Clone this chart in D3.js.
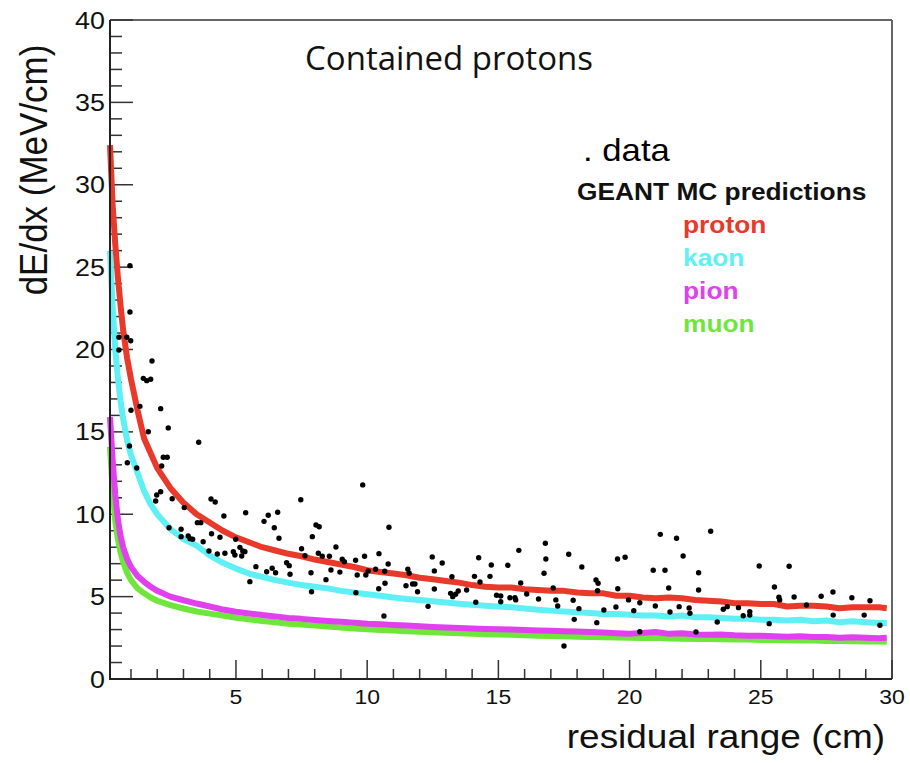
<!DOCTYPE html>
<html>
<head>
<meta charset="utf-8">
<script src="https://cdn.jsdelivr.net/npm/d3@7"></script>
<style>
  html, body { margin: 0; padding: 0; background: #fff; }
  svg { display: block; }
</style>
</head>
<body>
<svg id="chart" width="910" height="763"></svg>
<script>
// ---------- data ----------
const titleText = "Contained protons";
const xLabel = "residual range (cm)";
const yLabel = "dE/dx (MeV/cm)";
const xTickLabels = [5, 10, 15, 20, 25, 30];
const yTickLabels = [0, 5, 10, 15, 20, 25, 30, 35, 40];

const curveX = [0.2,0.3,0.4,0.5,0.6,0.7,0.85,1.0,1.25,1.5,1.75,2.0,2.5,3.0,3.5,4.0,4.5,5.0,5.5,6.0,6.5,7.0,7.5,8,8.5,9,9.5,10,10.5,11,11.5,12,12.5,13,13.5,14,14.5,15,15.5,16,16.5,17,17.5,18,18.5,19,19.5,20,20.5,21,21.5,22,22.5,23,23.5,24,24.5,25,25.5,26,26.5,27,27.5,28,28.5,29,29.5,29.8];
const protonY = [32.4,28.8,26.4,24.4,22.7,21.2,19.5,18.2,16.3,14.6,13.7,12.8,11.6,10.7,10.0,9.5,9.0,8.6,8.3,8.0,7.8,7.6,7.45,7.25,7.1,6.95,6.8,6.6,6.5,6.4,6.3,6.15,6.05,5.95,5.85,5.7,5.6,5.55,5.55,5.45,5.4,5.35,5.35,5.25,5.2,5.2,5.05,5.05,4.95,4.9,4.95,4.9,4.8,4.75,4.7,4.6,4.6,4.55,4.55,4.4,4.45,4.45,4.4,4.3,4.35,4.35,4.35,4.3];
const kaonY = [26.0,22.6,20.0,18.3,16.9,15.8,14.5,13.6,12.5,11.4,10.6,10.0,9.1,8.5,8.1,7.5,7.05,6.7,6.4,6.2,6.0,5.85,5.7,5.6,5.5,5.35,5.25,5.15,5.05,4.95,4.85,4.8,4.72,4.65,4.57,4.5,4.45,4.4,4.35,4.28,4.2,4.15,4.1,4.05,4.0,3.95,3.95,3.9,3.85,3.85,3.8,3.85,3.75,3.75,3.7,3.65,3.65,3.6,3.6,3.55,3.6,3.5,3.55,3.45,3.5,3.45,3.4,3.4];
const pionY = [15.9,13.3,11.2,9.7,8.7,8.0,7.3,6.8,6.25,5.9,5.6,5.35,5.0,4.78,4.58,4.4,4.22,4.08,3.98,3.88,3.8,3.7,3.65,3.58,3.52,3.47,3.42,3.36,3.32,3.28,3.25,3.2,3.16,3.13,3.1,3.07,3.04,3.02,3.0,2.97,2.95,2.93,2.9,2.88,2.85,2.82,2.78,2.75,2.8,2.85,2.74,2.78,2.7,2.68,2.7,2.65,2.63,2.62,2.6,2.57,2.6,2.55,2.55,2.5,2.53,2.5,2.48,2.5];
const muonY = [14.1,11.5,9.6,8.5,7.7,7.1,6.45,6.0,5.5,5.2,4.95,4.75,4.48,4.28,4.1,3.97,3.85,3.72,3.62,3.52,3.44,3.36,3.3,3.24,3.18,3.12,3.07,3.02,2.98,2.94,2.9,2.87,2.84,2.81,2.78,2.75,2.72,2.7,2.68,2.65,2.63,2.61,2.59,2.57,2.55,2.53,2.52,2.5,2.49,2.5,2.46,2.45,2.43,2.43,2.41,2.4,2.39,2.37,2.36,2.35,2.34,2.33,2.31,2.3,2.29,2.28,2.27,2.26];

const dataX = [0.96,0.96,0.54,0.84,0.99,0.54,1.80,1.47,1.60,1.75,1.00,1.34,2.13,2.42,1.66,3.58,0.94,2.23,2.38,2.17,0.86,1.22,2.13,1.98,1.94,2.57,4.05,4.21,3.03,4.54,5.37,6.23,6.59,6.07,6.46,6.64,3.53,3.66,2.45,2.91,2.91,3.18,3.25,3.35,4.07,4.39,3.75,4.99,3.97,4.29,4.58,4.90,5.15,5.26,5.34,5.22,4.96,5.76,6.17,6.38,6.51,5.53,6.93,7.06,9.83,7.47,8.05,8.17,10.83,7.91,7.50,7.63,8.14,8.29,8.56,8.81,7.03,7.86,7.88,8.43,8.62,9.05,9.13,8.96,9.56,9.90,10.45,9.62,9.95,10.04,10.32,10.67,10.80,10.44,10.68,10.64,11.55,11.60,11.48,11.73,11.82,11.92,12.32,12.48,12.56,12.56,12.86,13.23,13.18,13.26,13.37,13.47,13.79,14.09,14.25,14.14,9.57,14.30,14.73,14.68,15.36,15.78,15.85,14.93,15.09,15.09,15.44,15.63,15.66,16.08,16.53,16.79,16.81,16.74,17.09,17.19,17.26,17.68,18.18,17.85,17.89,17.50,18.07,18.72,18.80,18.78,18.75,19.02,19.54,19.83,19.55,19.48,19.96,20.16,20.39,20.39,20.90,21.35,21.17,21.49,20.98,21.54,21.79,21.89,22.04,23.09,22.63,22.63,22.27,22.30,22.53,23.34,23.57,23.72,24.15,24.33,24.58,24.58,24.94,25.32,25.52,25.69,25.72,26.08,26.27,26.74,27.30,27.75,27.76,28.47,28.94,29.16,29.54];
const dataY = [25.09,22.28,20.74,20.74,20.53,19.97,19.30,18.25,18.11,18.19,16.31,16.55,16.41,15.24,15.01,14.37,14.14,13.46,13.46,12.93,13.13,12.81,11.37,11.17,10.80,10.94,10.93,10.74,10.40,9.89,10.09,9.94,10.12,9.57,9.18,8.54,9.49,9.49,9.18,9.09,8.64,8.68,8.52,8.48,8.82,8.60,8.33,8.48,7.77,7.59,7.63,7.73,7.99,7.77,7.73,7.47,7.53,6.82,6.51,6.72,6.45,5.91,7.06,6.36,11.78,10.88,9.35,9.24,9.21,8.64,7.91,7.48,7.63,7.45,7.45,8.01,6.88,6.45,5.30,6.03,6.62,7.27,7.12,6.49,7.21,7.45,7.61,6.31,6.31,6.56,6.66,6.54,6.98,5.48,5.81,3.82,6.66,6.42,5.66,5.77,5.77,5.30,4.41,7.41,6.56,5.46,7.04,6.21,5.20,5.00,5.14,5.34,5.40,6.23,7.36,4.66,5.24,5.89,6.92,6.23,6.90,7.81,5.83,5.08,5.04,4.69,4.93,4.93,4.80,5.16,4.86,8.24,7.28,6.42,5.52,4.80,4.43,7.57,6.80,4.78,3.62,2.00,4.27,6.01,5.81,5.36,3.42,4.19,7.28,7.39,5.48,4.37,4.80,4.15,4.63,2.87,6.60,6.60,8.78,5.52,4.43,4.07,8.54,4.39,7.47,8.97,6.45,5.40,4.31,3.99,2.85,3.46,4.23,4.39,4.33,3.84,4.09,3.88,6.86,3.36,5.58,4.96,4.80,6.84,4.98,4.49,5.02,5.28,3.88,4.93,3.88,4.75,3.26];

const legendNames = ["proton", "kaon", "pion", "muon"];
const legendHeader = "GEANT MC predictions";
const dataLabel = ". data";
const seriesColors = { proton: "#e9392b", kaon: "#5ff0f6", pion: "#e140ee", muon: "#6fe63b" };

// ---------- layout ----------
const svg = d3.select("#chart");
const pLeft = 110, pRight = 892, pTop = 20, pBottom = 679;
const x = d3.scaleLinear().domain([0.2, 30]).range([pLeft, pRight]);
const y = d3.scaleLinear().domain([0, 40]).range([pBottom, pTop]);
const helv = "'Liberation Sans', Arial, Helvetica, sans-serif";
const SX = 1.12; // horizontal stretch of the original picture

// frame: top + right
svg.append("line").attr("x1", pLeft).attr("x2", pRight).attr("y1", pTop).attr("y2", pTop)
  .attr("stroke", "#666").attr("stroke-width", 2);
svg.append("line").attr("x1", pRight).attr("x2", pRight).attr("y1", pTop).attr("y2", pBottom)
  .attr("stroke", "#666").attr("stroke-width", 2);

// clip
svg.append("clipPath").attr("id", "plotclip").append("rect")
  .attr("x", pLeft - 4).attr("y", pTop).attr("width", pRight - pLeft + 4).attr("height", pBottom - pTop);

// x axis ticks (drawn inside, upward)
const gx = svg.append("g").attr("transform", `translate(0,${pBottom})`);
const xMinor = d3.range(1, 30).filter(v => v % 5 !== 0);
gx.selectAll("line.minor").data(xMinor).join("line").attr("class", "minor")
  .attr("x1", d => x(d)).attr("x2", d => x(d)).attr("y1", 0).attr("y2", -10)
  .attr("stroke", "#333").attr("stroke-width", 1.5);
gx.selectAll("line.major").data(xTickLabels).join("line").attr("class", "major")
  .attr("x1", d => x(d)).attr("x2", d => x(d)).attr("y1", 0).attr("y2", -19)
  .attr("stroke", "#333").attr("stroke-width", 1.5);
gx.selectAll("text").data(xTickLabels).join("text")
  .attr("transform", d => `translate(${x(d)},25) scale(${SX},1)`)
  .attr("text-anchor", "middle")
  .attr("font-family", helv).attr("font-size", 20.5).attr("fill", "#111")
  .text(d => d);

// y axis ticks
const gy = svg.append("g").attr("transform", `translate(${pLeft},0)`);
const yMinor = d3.range(1, 40).filter(v => v % 5 !== 0);
gy.selectAll("line.minor").data(yMinor).join("line").attr("class", "minor")
  .attr("x1", 0).attr("x2", 12).attr("y1", d => y(d)).attr("y2", d => y(d))
  .attr("stroke", "#333").attr("stroke-width", 1.5);
gy.selectAll("line.major").data(yTickLabels).join("line").attr("class", "major")
  .attr("x1", 0).attr("x2", 23).attr("y1", d => y(d)).attr("y2", d => y(d))
  .attr("stroke", "#333").attr("stroke-width", 1.5);
gy.selectAll("text").data(yTickLabels).join("text")
  .attr("transform", d => `translate(-5,${y(d) + 8.6}) scale(${SX},1)`)
  .attr("text-anchor", "end")
  .attr("font-family", helv).attr("font-size", 24).attr("fill", "#111")
  .text(d => d);

// curves
const series = [
  { name: "muon", vals: muonY },
  { name: "pion", vals: pionY },
  { name: "kaon", vals: kaonY },
  { name: "proton", vals: protonY }
];
const line = d3.line().x(d => x(d[0])).y(d => y(d[1]));
const gc = svg.append("g").attr("clip-path", "url(#plotclip)");
series.forEach(s => {
  gc.append("path")
    .datum(curveX.map((xv, i) => [xv, s.vals[i]]))
    .attr("d", line)
    .attr("fill", "none")
    .attr("stroke", seriesColors[s.name])
    .attr("stroke-width", 6)
    .attr("stroke-linejoin", "round");
});

// data points
svg.append("g").selectAll("circle").data(dataX.map((xv, i) => [xv, dataY[i]])).join("circle")
  .attr("cx", d => x(d[0])).attr("cy", d => y(d[1])).attr("r", 2.7).attr("fill", "#000");

// axis lines (left + bottom)
svg.append("line").attr("x1", pLeft).attr("x2", pLeft).attr("y1", pTop).attr("y2", pBottom + 1)
  .attr("stroke", "#222").attr("stroke-width", 2);
svg.append("line").attr("x1", pLeft - 1).attr("x2", pRight).attr("y1", pBottom).attr("y2", pBottom)
  .attr("stroke", "#222").attr("stroke-width", 2);

// axis labels
svg.append("text")
  .attr("transform", `translate(885,748) scale(${SX},1)`)
  .attr("text-anchor", "end")
  .attr("font-family", helv).attr("font-size", 33).attr("fill", "#111")
  .text(xLabel);
svg.append("text")
  .attr("transform", `translate(47,170) rotate(-90) scale(1,${SX})`)
  .attr("text-anchor", "middle")
  .attr("font-family", helv).attr("font-size", 35).attr("fill", "#111")
  .text(yLabel);

// title
svg.append("text")
  .attr("x", 305).attr("y", 70)
  .attr("font-family", "'Open Sans', sans-serif").attr("font-size", 33).attr("fill", "#111")
  .text(titleText);

// legend
svg.append("text")
  .attr("transform", `translate(583,161) scale(${SX},1)`)
  .attr("font-family", helv).attr("font-size", 31).attr("fill", "#000")
  .text(dataLabel);
svg.append("text")
  .attr("transform", `translate(577,200) scale(${SX},1)`)
  .attr("font-family", helv).attr("font-weight", "bold").attr("font-size", 23.5).attr("fill", "#111")
  .text(legendHeader);
svg.append("g").selectAll("text").data(legendNames).join("text")
  .attr("transform", (d, i) => `translate(683,${233 + i * 33}) scale(${SX},1)`)
  .attr("font-family", helv).attr("font-weight", "bold").attr("font-size", 23.5)
  .attr("fill", d => seriesColors[d])
  .text(d => d);
</script>
</body>
</html>
